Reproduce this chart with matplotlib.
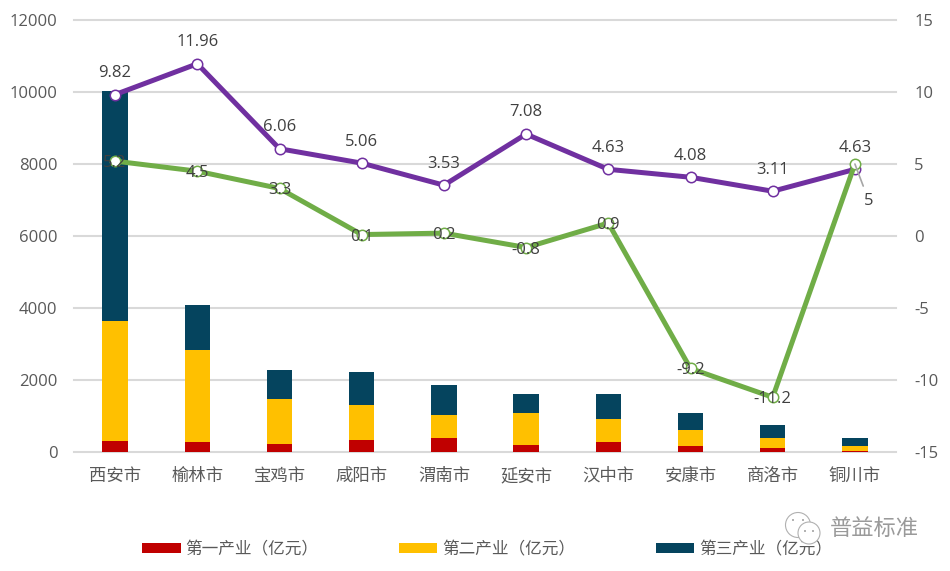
import matplotlib
matplotlib.use('Agg')
import matplotlib.pyplot as plt
from matplotlib.patches import Circle
import numpy as np

plt.rcParams['font.family'] = ['Open Sans', 'Noto Sans CJK SC', 'DejaVu Sans']
plt.rcParams['axes.unicode_minus'] = False

cities = ['西安市', '榆林市', '宝鸡市', '咸阳市', '渭南市', '延安市', '汉中市', '安康市', '商洛市', '铜川市']
primary = [300, 270, 210, 330, 385, 185, 270, 160, 100, 15]
secondary = [3330, 2570, 1260, 970, 645, 890, 640, 440, 280, 145]
tertiary = [6390, 1240, 800, 910, 830, 525, 690, 475, 360, 220]
purple_line = [9.82, 11.96, 6.06, 5.06, 3.53, 7.08, 4.63, 4.08, 3.11, 4.63]
green_line = [5.2, 4.5, 3.3, 0.1, 0.2, -0.8, 0.9, -9.2, -11.2, 5]
legend_names = ['第一产业（亿元）', '第二产业（亿元）', '第三产业（亿元）']

W, H = 950, 571
fig = plt.figure(figsize=(W / 100, H / 100), dpi=100)
ax = fig.add_axes([74 / W, 1 - 452 / H, 822 / W, 432 / H])

# stacked bars on the left axis
x = np.arange(len(cities))
bottom2 = np.array(primary)
bottom3 = bottom2 + np.array(secondary)
bar_w = 0.31
ax.bar(x, primary, bar_w, color='#c00000', label=legend_names[0], zorder=3)
ax.bar(x, secondary, bar_w, bottom=bottom2, color='#ffc000', label=legend_names[1], zorder=3)
ax.bar(x, tertiary, bar_w, bottom=bottom3, color='#05445e', label=legend_names[2], zorder=3)

ax.set_xlim(-0.5, 9.5)
ax.set_ylim(0, 12000)
ax.set_yticks(range(0, 12001, 2000))
ax.set_xticks(x)
ax.set_xticklabels(cities, fontsize=12.5, color='#595959')
ax.tick_params(axis='y', length=0, pad=12, labelsize=12, labelcolor='#595959')
ax.tick_params(axis='x', length=0, pad=12)
ax.grid(axis='y', color='#d9d9d9', lw=1.5, zorder=0)
ax.set_axisbelow(True)
# top and bottom gridlines would be cut in half otherwise
for line in ax.get_ygridlines():
    line.set_clip_on(False)
for s in ax.spines.values():
    s.set_visible(False)

# growth lines on the right axis
ax2 = ax.twinx()
ax2.set_ylim(-15, 15)
ax2.set_yticks(range(-15, 16, 5))
ax2.tick_params(axis='y', length=0, pad=13, labelsize=12, labelcolor='#595959')
for s in ax2.spines.values():
    s.set_visible(False)

ax2.plot(x, purple_line, color='#7030a0', lw=3.6, marker='o', ms=7.5, mfc='white', mew=1.1, zorder=4)
ax2.plot(x, green_line, color='#70ad47', lw=3.6, marker='o', ms=7.5, mfc='white', mew=1.1, zorder=5)

for xi, v in zip(x, purple_line):
    ax2.annotate(f'{v:g}', (xi, v), xytext=(0, 17), textcoords='offset points',
                 ha='center', va='center_baseline', fontsize=12, color='#404040', zorder=6)
# last green label sits off the point with a leader line
for xi, v in zip(x[:-1], green_line[:-1]):
    ax2.annotate(f'{v:g}', (xi, v), ha='center', va='center_baseline', fontsize=12, color='#404040', zorder=6)
ax2.annotate(f'{green_line[-1]:g}', (x[-1], green_line[-1]), xytext=(10, -25), textcoords='offset points',
             ha='center', va='center_baseline', fontsize=12, color='#404040', zorder=6,
             arrowprops=dict(arrowstyle='-', color='#a6a6a6', lw=1.2, shrinkA=3, shrinkB=0))

handles, labels = ax.get_legend_handles_labels()
fig.legend(handles, labels, loc='center', bbox_to_anchor=(487 / W, 1 - 550 / H), ncol=3, frameon=False,
           fontsize=12, labelcolor='#595959', handlelength=2.3, handleheight=0.6, handletextpad=0.28,
           columnspacing=4.85, borderpad=0, borderaxespad=0)

# wechat watermark, in pixel coordinates
over = fig.add_axes([0, 0, 1, 1], zorder=10)
over.set_xlim(0, W)
over.set_ylim(H, 0)
over.axis('off')
over.add_patch(Circle((798, 525), 12.5, fc='white', ec='#b0b0b0', lw=0.8))
over.add_patch(Circle((809, 533), 11, fc='white', ec='#b0b0b0', lw=0.8))
for cx, cy in [(793, 520), (803, 520), (805, 531), (813, 531)]:
    over.add_patch(Circle((cx, cy), 1, fc='#a0a0a0', ec='none'))
over.text(830, 529, '普益标准', fontsize=16, color='#9a9a9a', ha='left', va='center')

fig.savefig('out.png', dpi=100)
